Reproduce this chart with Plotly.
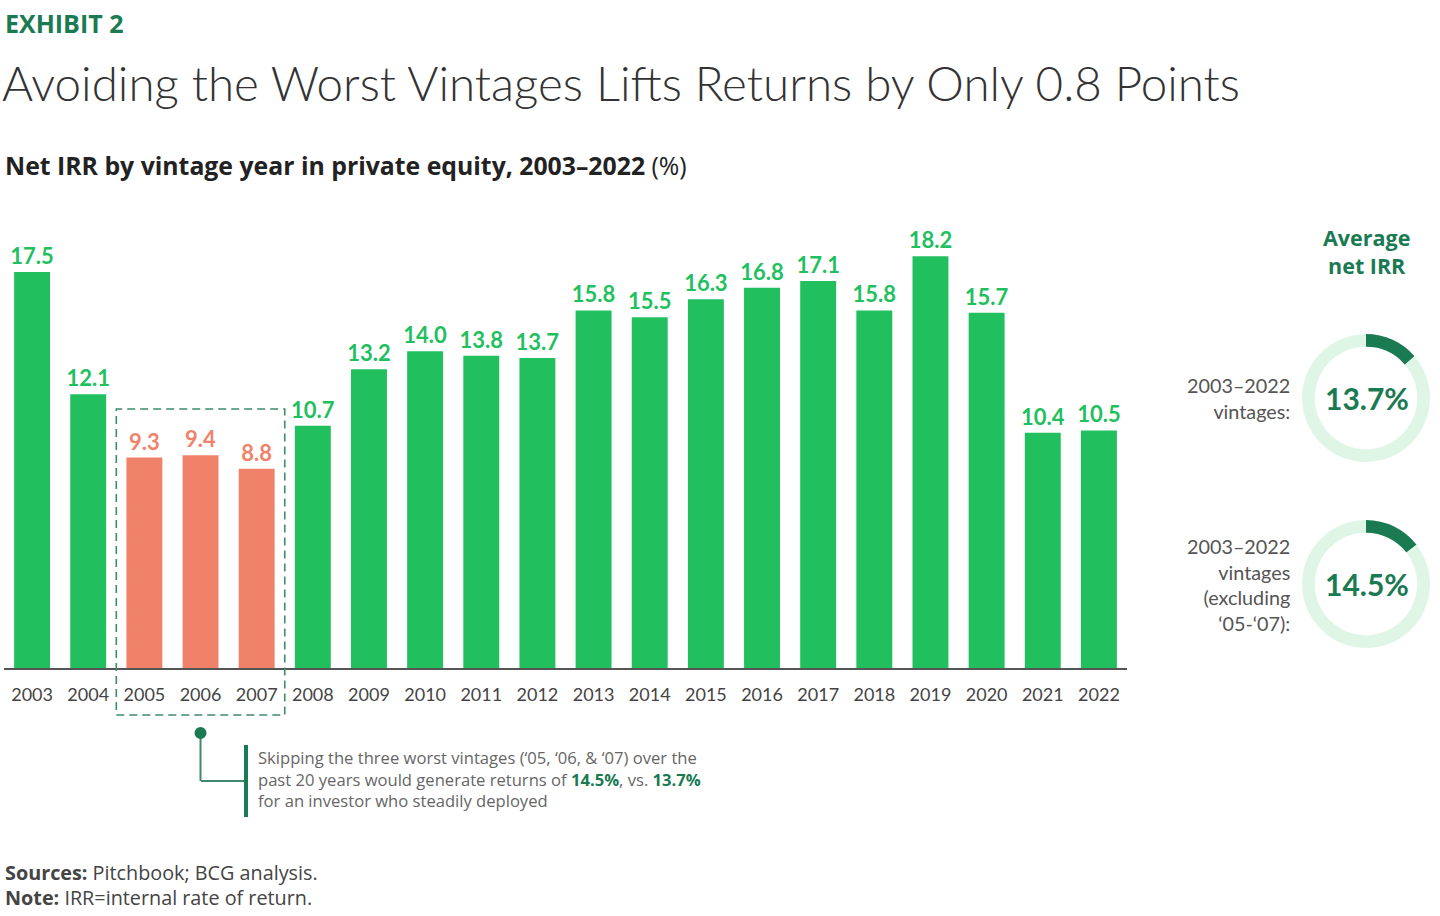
import plotly.graph_objects as go

# ---------------- data ----------------
years = [str(y) for y in range(2003, 2023)]
irr = [17.5, 12.1, 9.3, 9.4, 8.8, 10.7, 13.2, 14.0, 13.8, 13.7,
       15.8, 15.5, 16.3, 16.8, 17.1, 15.8, 18.2, 15.7, 10.4, 10.5]
worst = ["2005", "2006", "2007"]
avg_all = 13.7
avg_excl = 14.5

W, H = 1440, 916
GREEN = "#22BF5F"
SALMON = "#F0826A"
DARK = "#1A7A52"
LIGHT = "#DFF6E6"
GRAY = "#555555"
FONT = "Lato"
FONT2 = "Open Sans"

def px(x):
    return x / W

def py(y):
    return 1 - y / H

colors = [SALMON if y in worst else GREEN for y in years]

fig = go.Figure()
fig.add_trace(go.Bar(
    x=years, y=irr,
    marker=dict(color=colors, line=dict(width=0)),
    text=[f"{v:.1f}" for v in irr],
    texttemplate="<b>%{text}</b>",
    textposition="outside",
    textfont=dict(color=colors, size=22, family=FONT),
    constraintext="none",
    cliponaxis=False,
    hoverinfo="skip",
    showlegend=False,
))

# donuts
for val, cy in [(avg_all, 398), (avg_excl, 584)]:
    r = 64
    fig.add_trace(go.Pie(
        values=[val, 100 - val],
        marker=dict(colors=[DARK, LIGHT], line=dict(width=0)),
        hole=0.8, sort=False, direction="clockwise", rotation=0,
        textinfo="none", hoverinfo="skip", showlegend=False,
        domain=dict(x=[px(1366 - r), px(1366 + r)], y=[py(cy + r), py(cy - r)]),
    ))

annotations = []
shapes = []

# titles
annotations.append(dict(x=px(3), y=py(23), xref="paper", yref="paper", xanchor="left", yanchor="middle",
                        text="<b>EXHIBIT 2</b>", showarrow=False,
                        font=dict(family=FONT2, size=25, color=DARK)))
annotations.append(dict(x=px(0), y=py(82), xref="paper", yref="paper", xanchor="left", yanchor="middle",
                        text="Avoiding the Worst Vintages Lifts Returns by Only 0.8 Points", showarrow=False,
                        font=dict(family=FONT, size=47.5, color="#333333", weight=300)))
annotations.append(dict(x=px(3), y=py(165), xref="paper", yref="paper", xanchor="left", yanchor="middle",
                        text="<b>Net IRR by vintage year in private equity, 2003–2022</b> (%)", showarrow=False,
                        font=dict(family=FONT2, size=24.8, color="#222222")))

# footer
annotations.append(dict(x=px(3), y=py(872), xref="paper", yref="paper", xanchor="left", yanchor="middle",
                        text="<b>Sources:</b> Pitchbook; BCG analysis.", showarrow=False,
                        font=dict(family=FONT2, size=19.8, color="#444444")))
annotations.append(dict(x=px(3), y=py(897), xref="paper", yref="paper", xanchor="left", yanchor="middle",
                        text="<b>Note:</b> IRR=internal rate of return.", showarrow=False,
                        font=dict(family=FONT2, size=19.8, color="#444444")))

# right panel
annotations.append(dict(x=px(1366), y=py(252), xref="paper", yref="paper", xanchor="center", yanchor="middle",
                        text="<b>Average<br>net IRR</b>", showarrow=False,
                        font=dict(family=FONT2, size=21.5, color=DARK)))
for val, cy in [(avg_all, 398), (avg_excl, 584)]:
    annotations.append(dict(x=px(1367), y=py(cy), xref="paper", yref="paper", xanchor="center", yanchor="middle",
                            text=f"<b>{val:.1f}%</b>", showarrow=False,
                            font=dict(family=FONT, size=30, color=DARK)))
annotations.append(dict(x=px(1292), y=py(398), xref="paper", yref="paper", xanchor="right", yanchor="middle",
                        text="2003–2022<br>vintages:", showarrow=False, align="right",
                        font=dict(family=FONT, size=19.8, color=GRAY)))
annotations.append(dict(x=px(1292), y=py(584), xref="paper", yref="paper", xanchor="right", yanchor="middle",
                        text="2003–2022<br>vintages<br>(excluding<br>‘05-‘07):", showarrow=False, align="right",
                        font=dict(family=FONT, size=19.8, color=GRAY)))

# callout text
annotations.append(dict(x=px(256), y=py(779), xref="paper", yref="paper", xanchor="left", yanchor="middle",
                        text=("Skipping the three worst vintages (‘05, ‘06, & ‘07) over the<br>"
                              f"past 20 years would generate returns of <b><span style='color:{DARK}'>{avg_excl}%</span></b>, vs. "
                              f"<b><span style='color:{DARK}'>{avg_all}%</span></b><br>"
                              "for an investor who steadily deployed"),
                        showarrow=False, align="left",
                        font=dict(family=FONT2, size=16.6, color="#666666")))

# dashed box around worst vintages
shapes.append(dict(type="rect", xref="x", yref="paper",
                   x0=1.5, x1=4.5, y0=py(715), y1=py(409),
                   line=dict(color="#3E8B6B", width=1.6, dash="8px,5px"), fillcolor="rgba(0,0,0,0)"))
# connector
shapes.append(dict(type="line", xref="x", yref="paper", x0=3, x1=3, y0=py(733), y1=py(781),
                   line=dict(color="#3E8B6B", width=2)))
shapes.append(dict(type="line", xref="paper", yref="paper", x0=px(201), x1=px(246), y0=py(781), y1=py(781),
                   line=dict(color="#3E8B6B", width=2)))
shapes.append(dict(type="line", xref="paper", yref="paper", x0=px(246), x1=px(246), y0=py(745), y1=py(817),
                   line=dict(color=DARK, width=4)))

fig.update_layout(
    width=W, height=H,
    margin=dict(l=0, r=0, t=0, b=0),
    paper_bgcolor="white", plot_bgcolor="white",
    bargap=0.36,
    font=dict(family=FONT, color=GRAY),
    xaxis=dict(domain=[px(4), px(1127)], range=[-0.5, 19.5], type="category",
               showgrid=False, showline=True, linecolor="#555555", linewidth=1.5,
               ticks="", ticklabelstandoff=10,
               tickfont=dict(family=FONT, size=18, color="#444444")),
    yaxis=dict(domain=[py(668), py(668 - 20 * 22.63)], range=[0, 20],
               visible=False, showgrid=False, zeroline=False),
    annotations=annotations,
    shapes=shapes,
)

# dot on connector
fig.add_shape(type="circle", xref="x", yref="paper", xsizemode="pixel", ysizemode="pixel",
              xanchor=3, yanchor=py(733), x0=-6, x1=6, y0=-6, y1=6,
              fillcolor=DARK, line=dict(width=0))

fig.write_html("out.html", config={"displayModeBar": False},
               post_script="document.body.style.margin='0px';document.body.style.overflow='hidden';")
